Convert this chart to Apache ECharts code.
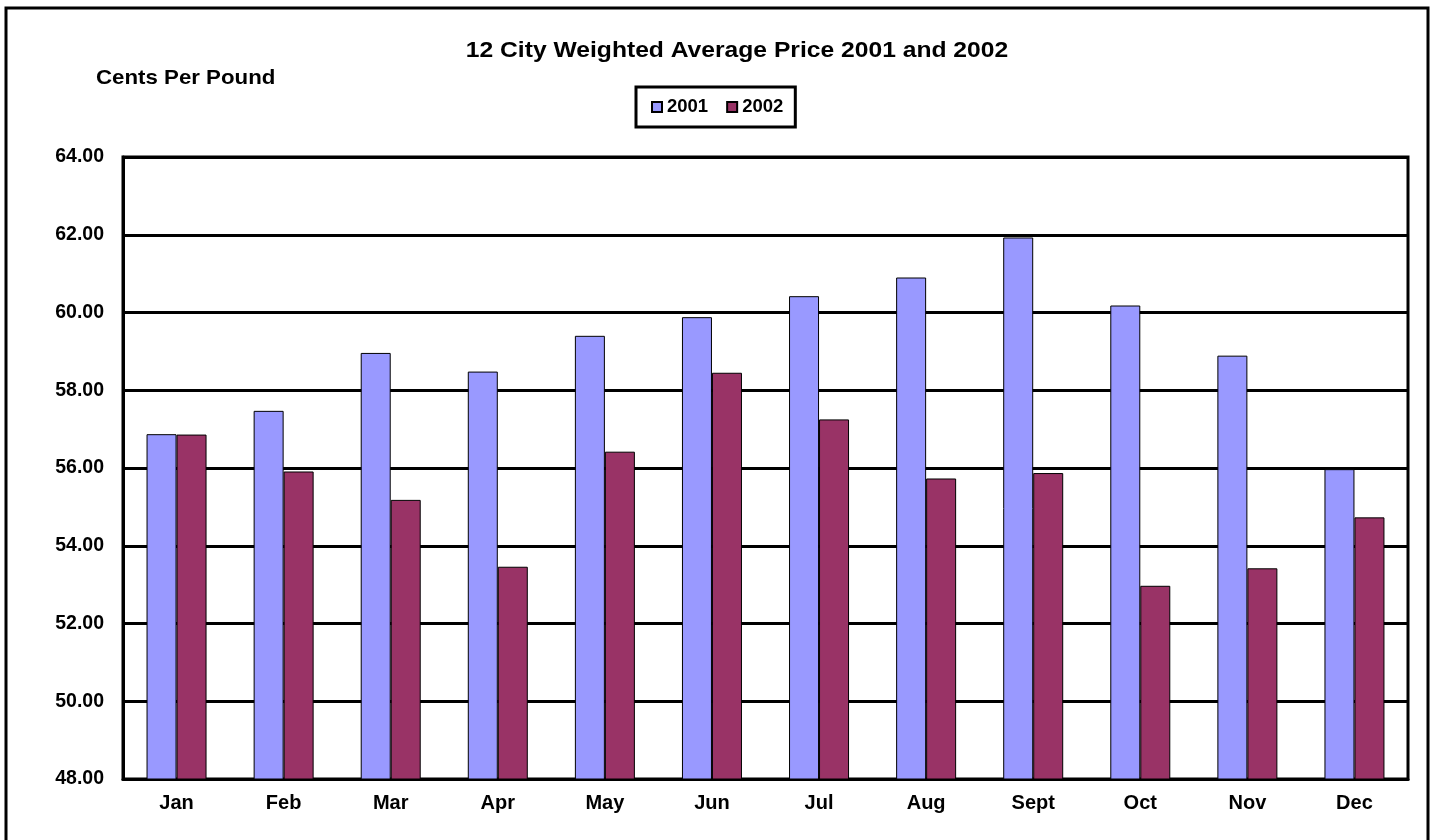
<!DOCTYPE html>
<html>
<head>
<meta charset="utf-8">
<script src="https://cdn.jsdelivr.net/npm/echarts@6/dist/echarts.min.js"></script>
<style>
  html, body { margin: 0; padding: 0; background: #fff; }
  #chart { width: 1433px; height: 840px; }
</style>
</head>
<body>
<div id="chart"></div>
<script>
// Monthly 12-city weighted average price, cents per pound
const months = ['Jan', 'Feb', 'Mar', 'Apr', 'May', 'Jun', 'Jul', 'Aug', 'Sept', 'Oct', 'Nov', 'Dec'];
const price2001 = [56.87, 57.47, 58.96, 58.48, 59.40, 59.88, 60.42, 60.90, 61.93, 60.18, 58.89, 55.97];
const price2002 = [56.86, 55.91, 55.18, 53.46, 56.42, 58.45, 57.25, 55.73, 55.87, 52.97, 53.42, 54.73];
const seriesNames = ['2001', '2002'];
const chartTitle = '12 City Weighted Average Price 2001 and 2002';
const unitLabel = 'Cents Per Pound';

const FONT = '"Liberation Sans", Arial, sans-serif';
const chart = echarts.init(document.getElementById('chart'), null, { renderer: 'canvas' });

chart.setOption({
  backgroundColor: '#ffffff',
  animation: false,
  legend: {
    data: seriesNames,
    left: 636,
    top: 87,
    padding: [10, 12, 10, 15],
    icon: 'rect',
    itemWidth: 10,
    itemHeight: 10,
    itemGap: 18,
    borderColor: '#000',
    borderWidth: 3,
    textStyle: { fontFamily: FONT, fontWeight: 'bold', fontSize: 18.5, lineHeight: 20, color: '#000' }
  },
  graphic: [
    {
      // outer frame around the whole chart
      type: 'rect',
      shape: { x: 6, y: 8, width: 1422, height: 850 },
      style: { fill: 'none', stroke: '#000', lineWidth: 3 },
      silent: true
    },
    {
      type: 'text',
      x: 737,
      y: 51,
      scaleX: 1.12,
      style: {
        text: chartTitle,
        font: 'bold 22px ' + FONT,
        fill: '#000',
        textAlign: 'center',
        textVerticalAlign: 'middle'
      }
    },
    {
      type: 'text',
      x: 96,
      y: 78,
      scaleX: 1.06,
      style: {
        text: unitLabel,
        font: 'bold 21px ' + FONT,
        fill: '#000',
        textAlign: 'left',
        textVerticalAlign: 'middle'
      }
    }
  ],
  grid: { left: 123, right: 25, top: 157, bottom: 61, show: true, borderColor: '#000', borderWidth: 3, backgroundColor: 'transparent' },
  xAxis: {
    type: 'category',
    data: months,
    axisLine: { show: true, lineStyle: { color: '#000', width: 3 } },
    axisTick: { show: false },
    axisLabel: { margin: 14, fontFamily: FONT, fontWeight: 'bold', fontSize: 20, color: '#000' }
  },
  yAxis: {
    type: 'value',
    min: 48,
    max: 64,
    interval: 2,
    axisLine: { show: true, lineStyle: { color: '#000', width: 3 } },
    axisTick: { show: false },
    splitLine: { show: true, lineStyle: { color: '#000', width: 3 } },
    axisLabel: {
      margin: 19,
      fontFamily: FONT, fontWeight: 'bold', fontSize: 19.5, color: '#000',
      formatter: v => v.toFixed(2)
    }
  },
  series: [
    {
      name: seriesNames[0],
      type: 'bar',
      data: price2001,
      barWidth: 30,
      barGap: '0%',
      itemStyle: { color: '#9999FF', borderColor: '#000', borderWidth: 1 }
    },
    {
      name: seriesNames[1],
      type: 'bar',
      data: price2002,
      barWidth: 30,
      barGap: '0%',
      itemStyle: { color: '#993366', borderColor: '#000', borderWidth: 1 }
    }
  ]
});
</script>
</body>
</html>
